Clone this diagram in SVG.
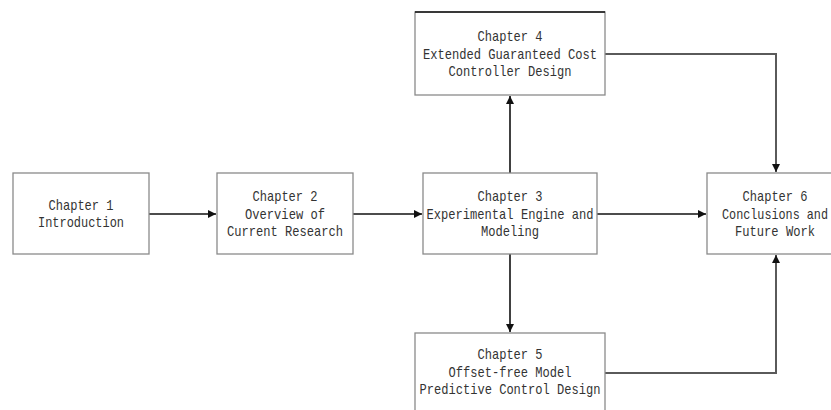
<svg xmlns="http://www.w3.org/2000/svg" width="831" height="410" viewBox="0 0 831 410">
<style>
.box{fill:#fff;stroke:#8a8a8a;stroke-width:1.3}
.lbl{font-family:"Liberation Mono","DejaVu Sans Mono",monospace;font-size:15px;fill:#333;text-anchor:middle}
.c{fill:none;stroke:#111;stroke-width:1.6}
.cg{fill:none;stroke:#5a5a5a;stroke-width:2}
</style>
<defs>
<marker id="ah" viewBox="0 0 10 10" refX="10" refY="5" markerWidth="9" markerHeight="8" markerUnits="userSpaceOnUse" orient="auto">
<path d="M0,0 L10,5 L0,10 Z" fill="#111"/>
</marker>
</defs>
<rect width="831" height="410" fill="#fff"/>
<g id="connectors">
<line class="c" x1="149" y1="214" x2="216" y2="214" marker-end="url(#ah)"/>
<line class="c" x1="353" y1="214" x2="422" y2="214" marker-end="url(#ah)"/>
<line class="c" x1="597" y1="214" x2="706" y2="214" marker-end="url(#ah)"/>
<line class="c" x1="510" y1="173" x2="510" y2="96" marker-end="url(#ah)"/>
<line class="c" x1="510" y1="254" x2="510" y2="332" marker-end="url(#ah)"/>
<polyline class="cg" points="605,54 776,54 776,172" marker-end="url(#ah)"/>
<polyline class="cg" points="605,373 776,373 776,255" marker-end="url(#ah)"/>
</g>
<g id="ch1">
<rect class="box" x="13" y="173" width="136" height="81"/>
<text class="lbl" x="81" y="209.5" textLength="65" lengthAdjust="spacingAndGlyphs">Chapter 1</text>
<text class="lbl" x="81" y="227" textLength="86" lengthAdjust="spacingAndGlyphs">Introduction</text>
</g>
<g id="ch2">
<rect class="box" x="217" y="173" width="136" height="81"/>
<text class="lbl" x="285" y="201" textLength="65" lengthAdjust="spacingAndGlyphs">Chapter 2</text>
<text class="lbl" x="285" y="218.5" textLength="80" lengthAdjust="spacingAndGlyphs">Overview of</text>
<text class="lbl" x="285" y="236" textLength="116" lengthAdjust="spacingAndGlyphs">Current Research</text>
</g>
<g id="ch3">
<rect class="box" x="423" y="173" width="174" height="81"/>
<text class="lbl" x="510" y="201" textLength="65" lengthAdjust="spacingAndGlyphs">Chapter 3</text>
<text class="lbl" x="510" y="218.5" textLength="167" lengthAdjust="spacingAndGlyphs">Experimental Engine and</text>
<text class="lbl" x="510" y="236" textLength="58" lengthAdjust="spacingAndGlyphs">Modeling</text>
</g>
<g id="ch4">
<rect class="box" x="415" y="12" width="190" height="83"/>
<line x1="415" y1="12" x2="605" y2="12" stroke="#111" stroke-width="1.3"/>
<text class="lbl" x="510" y="41" textLength="65" lengthAdjust="spacingAndGlyphs">Chapter 4</text>
<text class="lbl" x="510" y="58.5" textLength="174" lengthAdjust="spacingAndGlyphs">Extended Guaranteed Cost</text>
<text class="lbl" x="510" y="76" textLength="123" lengthAdjust="spacingAndGlyphs">Controller Design</text>
</g>
<g id="ch5">
<rect class="box" x="415" y="333" width="190" height="83"/>
<text class="lbl" x="510" y="359" textLength="65" lengthAdjust="spacingAndGlyphs">Chapter 5</text>
<text class="lbl" x="510" y="376.5" textLength="123" lengthAdjust="spacingAndGlyphs">Offset-free Model</text>
<text class="lbl" x="510" y="394" textLength="181" lengthAdjust="spacingAndGlyphs">Predictive Control Design</text>
</g>
<g id="ch6">
<rect class="box" x="707" y="173" width="138" height="81"/>
<text class="lbl" x="775" y="201" textLength="65" lengthAdjust="spacingAndGlyphs">Chapter 6</text>
<text class="lbl" x="775" y="218.5" textLength="106" lengthAdjust="spacingAndGlyphs">Conclusions and</text>
<text class="lbl" x="775" y="236" textLength="80" lengthAdjust="spacingAndGlyphs">Future Work</text>
</g>
</svg>
